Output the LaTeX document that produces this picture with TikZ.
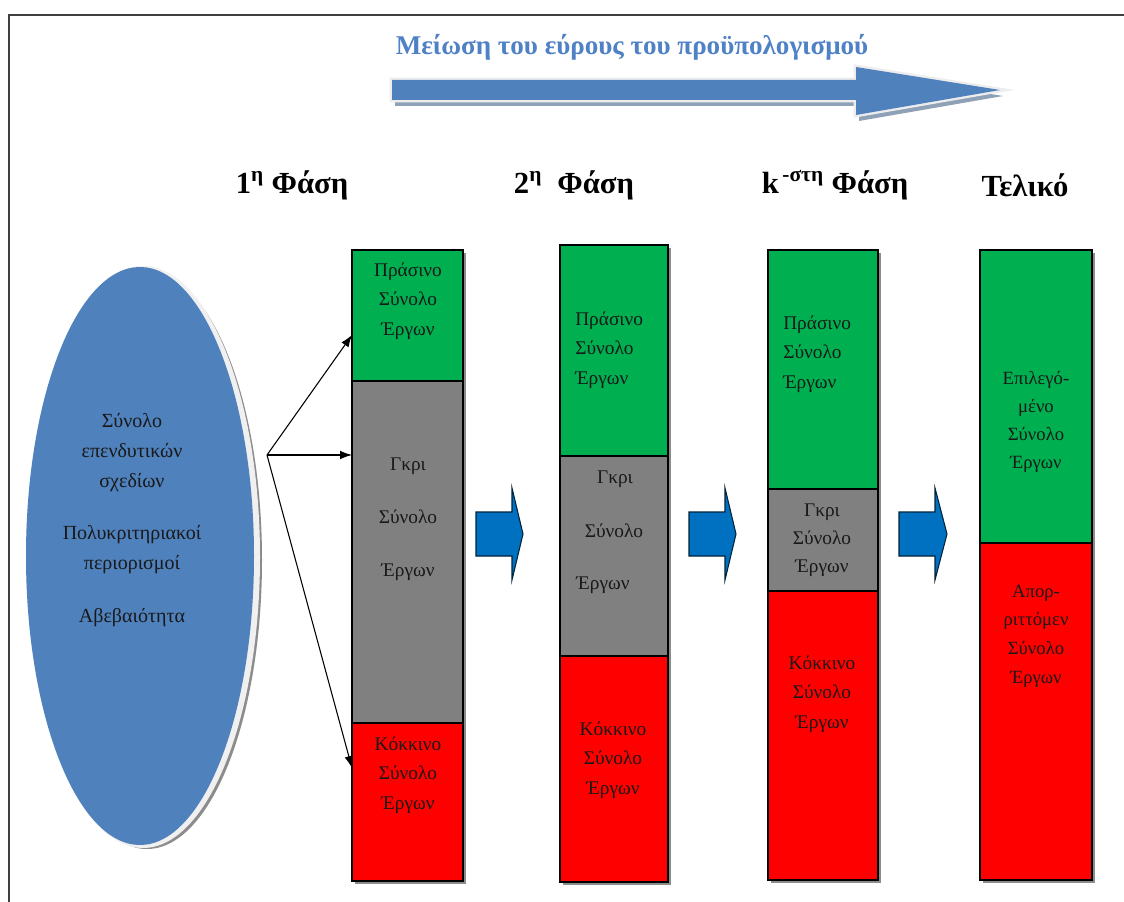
\documentclass[tikz,border=0pt]{standalone}
\usepackage{fontspec}
\setmainfont{Liberation Serif}
\usetikzlibrary{arrows.meta,shapes.geometric}
\definecolor{ellblue}{HTML}{4F81BD}
\definecolor{titleblue}{HTML}{4F81C7}
\definecolor{setgreen}{HTML}{00B050}
\definecolor{setgray}{HTML}{808080}
\definecolor{setred}{HTML}{FF0000}
\definecolor{stepblue}{HTML}{0070C0}
\definecolor{framegray}{HTML}{404040}
\tikzset{
  seg/.style={draw=black, line width=0.8pt, inner sep=0pt, outer sep=0pt, anchor=north west},
  colshadow/.style={fill=black!45},
  boxtxt/.style={font=\fontsize{14.5}{22}\selectfont, align=center, inner sep=0pt, text=black!90},
  phase/.style={font=\bfseries\fontsize{23}{27}\selectfont, inner sep=0pt},
  blockarrow/.style={fill=stepblue, draw=black!70!stepblue, line width=0.8pt, line join=miter},
  link/.style={line width=0.8pt, -{Latex[length=9pt,width=6.5pt]}},
  bigarrow/.pic={\path[pic actions] (392,80) -- (856,80) -- (856,67) -- (1000,90) -- (856,115) -- (856,100) -- (392,100) -- cycle;}
}
\begin{document}
\begin{tikzpicture}[x=0.75pt,y=-0.75pt]
\useasboundingbox (0,0) rectangle (1124,902);
\fill[white] (0,0) rectangle (1124,902);
% frame lines
\draw[framegray, line width=1.5pt] (9,902) -- (9,15) -- (1124,15);

% title and the long arrow
\node[font=\bfseries\fontsize{20.3}{24}\selectfont, text=titleblue, inner sep=0pt] (title) at (632,47) {Μείωση του εύρους του προϋπολογισμού};
\pic[fill=black!35!ellblue!55] at (3,6) {bigarrow};
\pic[fill=white, draw=black!7, line width=3.5pt, line join=miter] {bigarrow};
\pic[fill=ellblue] {bigarrow};

% phase headings
\node[phase] (p1) at (292,185) {1\textsuperscript{η} Φάση};
\node[phase] (p2) at (574,185) {2\textsuperscript{η}\ \ Φάση};
\node[phase] (p3) at (835,185) {k\textsuperscript{\,-στη}\ Φάση};
\node[phase] (p4) at (1025,185) {Τελικό};

% source ellipse
\fill[black!45] (147,560) ellipse [x radius=115pt*0.75, y radius=289pt*0.75];
\fill[black!6] (143,557) ellipse [x radius=117pt*0.75, y radius=291pt*0.75];
\node[ellipse, fill=ellblue, inner sep=0pt, minimum width=171pt, minimum height=433.5pt] (ell) at (140,556) {};
\node[boxtxt, font=\fontsize{15}{22.5}\selectfont] (elltxt) at (132,520)
  {Σύνολο\\επενδυτικών\\σχεδίων\\[17pt]Πολυκριτηριακοί\\περιορισμοί\\[17pt]Αβεβαιότητα};

% column shadows
\fill[colshadow] (355,253) rectangle (466,884);
\fill[colshadow] (563,248) rectangle (671,885);
\fill[colshadow] (771,253) rectangle (881,883);
\fill[colshadow] (983,253) rectangle (1095,883);

% column 1
\node[seg, fill=setgreen, minimum width=83.25pt, minimum height=98.25pt] (c1g) at (352,250) {};
\node[seg, fill=setgray,  minimum width=83.25pt, minimum height=256.5pt] (c1m) at (352,381) {};
\node[seg, fill=setred,   minimum width=83.25pt, minimum height=118.5pt] (c1r) at (352,723) {};
\node[boxtxt] at (408,301) {Πράσινο\\Σύνολο\\Έργων};
\node[boxtxt, font=\fontsize{14.5}{39.75}\selectfont] at (408,519) {Γκρι\\Σύνολο\\Έργων};
\node[boxtxt] at (408,775) {Κόκκινο\\Σύνολο\\Έργων};

% column 2
\node[seg, fill=setgreen, minimum width=81pt, minimum height=158.25pt] (c2g) at (560,245) {};
\node[seg, fill=setgray,  minimum width=81pt, minimum height=150pt] (c2m) at (560,456) {};
\node[seg, fill=setred,   minimum width=81pt, minimum height=169.5pt] (c2r) at (560,656) {};
\node[boxtxt, align=left, anchor=west] at (575,350) {Πράσινο\\Σύνολο\\Έργων};
\node[boxtxt] at (615,479) {Γκρι};
\node[boxtxt] at (614,531) {Σύνολο};
\node[boxtxt] at (603,585) {Έργων};
\node[boxtxt] at (613,760) {Κόκκινο\\Σύνολο\\Έργων};

% column 3
\node[seg, fill=setgreen, minimum width=82.5pt, minimum height=179.25pt] (c3g) at (768,250) {};
\node[seg, fill=setgray,  minimum width=82.5pt, minimum height=76.5pt] (c3m) at (768,489) {};
\node[seg, fill=setred,   minimum width=82.5pt, minimum height=216.75pt] (c3r) at (768,591) {};
\node[boxtxt, align=left, anchor=west] at (783,354) {Πράσινο\\Σύνολο\\Έργων};
\node[boxtxt, font=\fontsize{14.5}{21}\selectfont] at (822,540) {Γκρι\\Σύνολο\\Έργων};
\node[boxtxt] at (822,694) {Κόκκινο\\Σύνολο\\Έργων};

% final column
\node[seg, fill=setgreen, minimum width=84pt, minimum height=219.75pt] (c4g) at (980,250) {};
\node[seg, fill=setred,   minimum width=84pt, minimum height=252.75pt] (c4r) at (980,543) {};
\node[boxtxt, font=\fontsize{14}{21}\selectfont] at (1036,422) {Επιλεγό-\\μένο\\Σύνολο\\Έργων};
\node[boxtxt, font=\fontsize{14}{21.5}\selectfont] at (1036,636) {Απορ-\\ριττόμεν\\Σύνολο\\Έργων};

% step arrows between phases
\filldraw[blockarrow] (476,512) -- (512,512) -- (512,488) -- (523,534) -- (512,580) -- (512,556) -- (476,556) -- cycle;
\filldraw[blockarrow] (689,512) -- (725,512) -- (725,488) -- (736,534) -- (725,580) -- (725,556) -- (689,556) -- cycle;
\filldraw[blockarrow] (899,512) -- (935,512) -- (935,488) -- (947,534) -- (935,580) -- (935,556) -- (899,556) -- cycle;

% links from the ellipse to the first phase
\coordinate (src) at (267,455);
\coordinate (toG) at (352,335);
\coordinate (toM) at (352,455);
\coordinate (toR) at (352,768);
\draw[link] (src) -- (toG);
\draw[link] (src) -- (toM);
\draw[link] (src) -- (toR);
\end{tikzpicture}
\end{document}
